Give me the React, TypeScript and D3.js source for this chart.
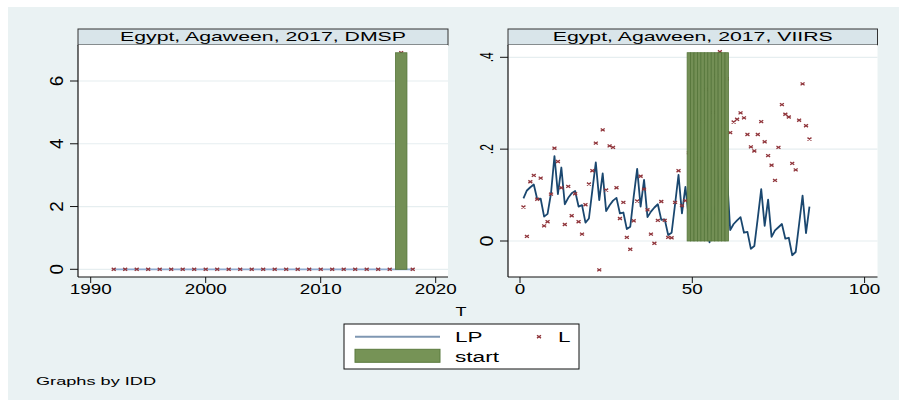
import React from "react";
import * as d3 from "d3";

// ---------------- DATA ----------------
const DMSP_YEARS = [1992, 1993, 1994, 1995, 1996, 1997, 1998, 1999, 2000, 2001, 2002, 2003, 2004, 2005, 2006, 2007, 2008, 2009, 2010, 2011, 2012, 2013, 2014, 2015, 2016, 2017, 2018];
const DMSP_L = [0, 0, 0, 0, 0, 0, 0, 0, 0, 0, 0, 0, 0, 0, 0, 0, 0, 0, 0, 0, 0, 0, 0, 0, 0, 6.9, 0];
const DMSP_LP = [0, 0, 0, 0, 0, 0, 0, 0, 0, 0, 0, 0, 0, 0, 0, 0, 0, 0, 0, 0, 0, 0, 0, 0, 0, 0, 0];
const DMSP_START_YEARS = [2017];
const DMSP_START = [6.9];

const VIIRS_T = [1, 2, 3, 4, 5, 6, 7, 8, 9, 10, 11, 12, 13, 14, 15, 16, 17, 18, 19, 20, 21, 22, 23, 24, 25, 26, 27, 28, 29, 30, 31, 32, 33, 34, 35, 36, 37, 38, 39, 40, 41, 42, 43, 44, 45, 46, 47, 48, 49, 50, 51, 52, 53, 54, 55, 56, 57, 58, 59, 60, 61, 62, 63, 64, 65, 66, 67, 68, 69, 70, 71, 72, 73, 74, 75, 76, 77, 78, 79, 80, 81, 82, 83, 84];
const VIIRS_L = [0.074, 0.010, 0.129, 0.143, 0.091, 0.137, 0.033, 0.042, 0.102, 0.202, 0.173, 0.116, 0.036, 0.119, 0.055, 0.103, 0.042, 0.015, 0.079, 0.124, 0.153, 0.213, -0.063, 0.242, 0.111, 0.207, 0.204, 0.116, 0.049, 0.084, 0.008, -0.018, 0.044, 0.087, 0.141, 0.113, 0.068, 0.015, -0.005, 0.045, 0.086, 0.045, 0.008, 0.007, 0.084, 0.153, 0.077, 0.088, 0.192, 0.22, 0.30, 0.18, 0.26, 0.33, 0.21, 0.28, 0.36, 0.412, 0.25, 0.353, 0.236, 0.259, 0.265, 0.279, 0.268, 0.232, 0.205, 0.196, 0.232, 0.260, 0.216, 0.186, 0.165, 0.132, 0.204, 0.297, 0.276, 0.270, 0.169, 0.155, 0.263, 0.342, 0.251, 0.222];
const VIIRS_LP = [0.093, 0.110, 0.117, 0.123, 0.091, 0.092, 0.053, 0.059, 0.104, 0.185, 0.102, 0.160, 0.080, 0.094, 0.104, 0.109, 0.075, 0.078, 0.040, 0.049, 0.111, 0.171, 0.089, 0.147, 0.065, 0.078, 0.088, 0.094, 0.060, 0.062, 0.026, 0.031, 0.097, 0.157, 0.075, 0.133, 0.052, 0.064, 0.073, 0.080, 0.046, 0.047, 0.013, 0.018, 0.080, 0.144, 0.060, 0.118, 0.05, 0.12, 0.06, 0.10, 0.04, 0.07, -0.003, 0.08, 0.05, 0.17, 0.09, 0.15, 0.024, 0.037, 0.045, 0.052, 0.018, 0.020, -0.017, -0.011, 0.05, 0.113, 0.033, 0.090, 0.009, 0.023, 0.030, 0.037, 0.005, 0.007, -0.031, -0.024, 0.037, 0.099, 0.017, 0.075];
const VIIRS_START_T = [49, 50, 51, 52, 53, 54, 55, 56, 57, 58, 59, 60];
const VIIRS_START = [0.41, 0.41, 0.41, 0.41, 0.41, 0.41, 0.41, 0.41, 0.41, 0.41, 0.41, 0.41];

const DMSP_XTICKS = [1990, 2000, 2010, 2020];
const DMSP_YTICKS = [0, 2, 4, 6];
const DMSP_YLABELS = ["0", "2", "4", "6"];
const VIIRS_XTICKS = [0, 50, 100];
const VIIRS_YTICKS = [0, 0.2, 0.4];
const VIIRS_YLABELS = ["0", ".2", ".4"];

const TITLES = ["Egypt, Agaween, 2017, DMSP", "Egypt, Agaween, 2017, VIIRS"];
const LEGEND = ["LP", "L", "start"];
const XTITLE = "T";
const NOTE = "Graphs by IDD";

// ---------------- STYLE ----------------
const FONT = "'Liberation Sans', Arial, Helvetica, sans-serif";
const BG = "#eaf2f3";
const TITLE_FILL = "#d9e5ea";
const NAVY = "#1a476f";
const MAROON = "#90353b";
const BAR_FILL = "#738f55";
const BAR_STROKE = "#55753a";

function Txt({ x, y, w, size, anchor = "middle", children, rotate = false }: any) {
  const tr = rotate ? `translate(${x},${y}) rotate(-90)` : `translate(${x},${y})`;
  return (
    <text
      transform={tr}
      fontFamily={FONT}
      fontSize={size}
      textAnchor={anchor}
      textLength={w}
      lengthAdjust="spacingAndGlyphs"
      fill="#000"
    >
      {children}
    </text>
  );
}

function Marker({ x, y }: { x: number; y: number }) {
  return (
    <path
      d={`M${x - 2},${y - 1.4}L${x + 2},${y + 1.4}M${x - 2},${y + 1.4}L${x + 2},${y - 1.4}`}
      stroke={MAROON}
      strokeWidth={1.3}
      fill="none"
    />
  );
}

type PanelProps = {
  left: number;
  right: number;
  title: string;
  titleW: number;
  xs: d3.ScaleLinear<number, number>;
  ys: d3.ScaleLinear<number, number>;
  xticks: number[];
  yticks: number[];
  ylabels: string[];
  ylabelW: number[];
  xs_data: number[];
  L: number[];
  LP: number[];
  startX: number[];
  start: number[];
  lineColor: string;
};

const PLOT_TOP = 45;
const PLOT_BOTTOM = 277;
const TITLE_TOP = 29;

function Panel(p: PanelProps) {
  const line = d3
    .line<number>()
    .x((_, i) => p.xs(p.xs_data[i]))
    .y((d) => p.ys(d));
  const barW = p.xs(1) - p.xs(0);
  return (
    <g>
      <rect x={p.left} y={TITLE_TOP} width={p.right - p.left} height={PLOT_TOP - TITLE_TOP} fill={TITLE_FILL} stroke="#333" strokeWidth={1} />
      <Txt x={(p.left + p.right) / 2} y={41} w={p.titleW} size={13.5}>
        {p.title}
      </Txt>
      <rect x={p.left} y={PLOT_TOP} width={p.right - p.left} height={PLOT_BOTTOM - PLOT_TOP} fill="#fff" />
      {p.yticks.map((t) => (
        <line key={"g" + t} x1={p.left} x2={p.right} y1={p.ys(t)} y2={p.ys(t)} stroke="#e6eef0" strokeWidth={1.2} />
      ))}
      <path d={line(p.LP) || ""} fill="none" stroke={p.lineColor} strokeWidth={1.8} strokeLinejoin="round" />
      {p.L.map((v, i) => (
        <Marker key={"m" + i} x={p.xs(p.xs_data[i])} y={p.ys(v)} />
      ))}
      {p.start.map((v, i) => (
        <rect
          key={"b" + i}
          x={p.xs(p.startX[i]) - barW / 2}
          y={p.ys(v)}
          width={barW}
          height={p.ys(0) - p.ys(v)}
          fill={BAR_FILL}
          stroke={BAR_STROKE}
          strokeWidth={0.8}
        />
      ))}
      {/* axes */}
      <line x1={p.left} x2={p.left} y1={PLOT_TOP} y2={PLOT_BOTTOM} stroke="#111" strokeWidth={1.2} />
      <line x1={p.left} x2={p.right} y1={PLOT_BOTTOM} y2={PLOT_BOTTOM} stroke="#111" strokeWidth={1.2} />
      {p.yticks.map((t, i) => (
        <g key={"yt" + t}>
          <line x1={p.left - 8} x2={p.left} y1={p.ys(t)} y2={p.ys(t)} stroke="#111" strokeWidth={1} />
          <Txt x={p.left - 15} y={p.ys(t)} w={p.ylabelW[i]} size={19} rotate>
            {p.ylabels[i]}
          </Txt>
        </g>
      ))}
      {p.xticks.map((t) => (
        <g key={"xt" + t}>
          <line x1={p.xs(t)} x2={p.xs(t)} y1={PLOT_BOTTOM} y2={PLOT_BOTTOM + 6} stroke="#111" strokeWidth={1} />
          <Txt x={p.xs(t)} y={294} w={10.5 * String(t).length} size={14}>
            {String(t)}
          </Txt>
        </g>
      ))}
    </g>
  );
}

export default function App() {
  const xL = d3.scaleLinear().domain([1990, 2020]).range([90.7, 435.7]);
  const yL = d3.scaleLinear().domain([0, 6]).range([269.3, 81]);
  const xR = d3.scaleLinear().domain([0, 100]).range([520, 864.6]);
  const yR = d3.scaleLinear().domain([0, 0.4]).range([241, 57.3]);

  return (
    <div style={{ position: "fixed", left: 0, top: 0, width: 899, height: 400 }}>
      <svg width={899} height={400} style={{ display: "block" }}>
        <rect x={0} y={0} width={899} height={400} fill="#fff" />
        <rect x={8} y={7} width={891} height={393} fill={BG} />
        <Panel
          left={78}
          right={448}
          title={TITLES[0]}
          titleW={286}
          xs={xL}
          ys={yL}
          xticks={DMSP_XTICKS}
          yticks={DMSP_YTICKS}
          ylabels={DMSP_YLABELS}
          ylabelW={[10.5, 10.5, 10.5, 10.5]}
          xs_data={DMSP_YEARS}
          L={DMSP_L}
          LP={DMSP_LP}
          startX={DMSP_START_YEARS}
          start={DMSP_START}
          lineColor="#8eaad0"
        />
        <Panel
          left={508}
          right={877.5}
          title={TITLES[1]}
          titleW={280}
          xs={xR}
          ys={yR}
          xticks={VIIRS_XTICKS}
          yticks={VIIRS_YTICKS}
          ylabels={VIIRS_YLABELS}
          ylabelW={[11, 10, 10]}
          xs_data={VIIRS_T}
          L={VIIRS_L}
          LP={VIIRS_LP}
          startX={VIIRS_START_T}
          start={VIIRS_START}
          lineColor={NAVY}
        />
        <Txt x={461} y={316} w={11} size={13}>
          {XTITLE}
        </Txt>
        {/* legend */}
        <rect x={344} y={324} width={235} height={45} fill="#fff" stroke="#111" strokeWidth={1} />
        <line x1={355} x2={440} y1={336.7} y2={336.7} stroke="#7f97b2" strokeWidth={2} />
        <Txt x={455} y={341.7} w={27.5} size={14} anchor="start">
          {LEGEND[0]}
        </Txt>
        <Marker x={539} y={336.7} />
        <Txt x={558} y={341.7} w={12.5} size={14} anchor="start">
          {LEGEND[1]}
        </Txt>
        <rect x={355} y={349.3} width={85} height={13} fill="#769356" stroke="#5b7a3e" strokeWidth={1} />
        <Txt x={455} y={362} w={44} size={14} anchor="start">
          {LEGEND[2]}
        </Txt>
        <Txt x={36} y={385} w={120} size={11} anchor="start">
          {NOTE}
        </Txt>
      </svg>
    </div>
  );
}
